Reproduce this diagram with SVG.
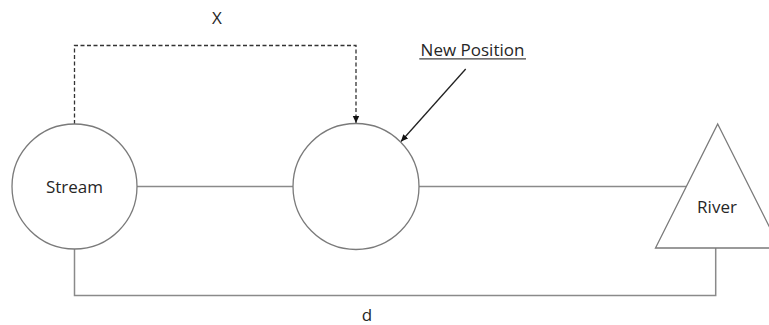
<svg xmlns="http://www.w3.org/2000/svg" width="769" height="325" viewBox="0 0 769 325">
<style>
.shape{fill:#fff;stroke:#7a7a7a;stroke-width:1.3}
.conn{fill:none;stroke:#8a8a8a;stroke-width:1.5}
.dash{fill:none;stroke:#333;stroke-width:1.3;stroke-dasharray:4 2.5}
.arr{fill:none;stroke:#222;stroke-width:1.3}
text{font-family:"Open Sans","Liberation Sans",Arial,sans-serif;font-size:17px;fill:#262626;text-anchor:middle}
</style>
<defs>
<marker id="ah" markerWidth="8" markerHeight="8" refX="7" refY="4" orient="auto" markerUnits="userSpaceOnUse">
<path d="M0,0.8 L7,4 L0,7.2 Z" fill="#111"/>
</marker>
</defs>
<rect width="769" height="325" fill="#fff"/>
<g id="connectors">
<line class="conn" x1="137" y1="186.5" x2="293" y2="186.5"/>
<line class="conn" x1="419" y1="186.5" x2="688" y2="186.5"/>
<polyline class="conn" points="74.5,249 74.5,295.5 715.7,295.5 715.7,248"/>
<polyline class="dash" points="74.5,124 74.5,45.5 356,45.5 356,123" marker-end="url(#ah)"/>
<line class="arr" x1="465.7" y1="69" x2="401" y2="141.5" marker-end="url(#ah)"/>
</g>
<g id="stream">
<circle class="shape" cx="74.5" cy="186.5" r="62.5"/>
<text x="74.5" y="192.5">Stream</text>
</g>
<g id="new-position">
<circle class="shape" cx="356" cy="186.5" r="63"/>
</g>
<g id="river">
<polygon class="shape" points="717.7,124 780,248 655.5,248"/>
<text x="717" y="212.7">River</text>
</g>
<g id="labels">
<text x="217" y="24">X</text>
<text x="472.5" y="55.5">New Position</text>
<line x1="419.3" y1="58.8" x2="526" y2="58.8" stroke="#444" stroke-width="1.2"/>
<text x="367" y="321">d</text>
</g>
</svg>
